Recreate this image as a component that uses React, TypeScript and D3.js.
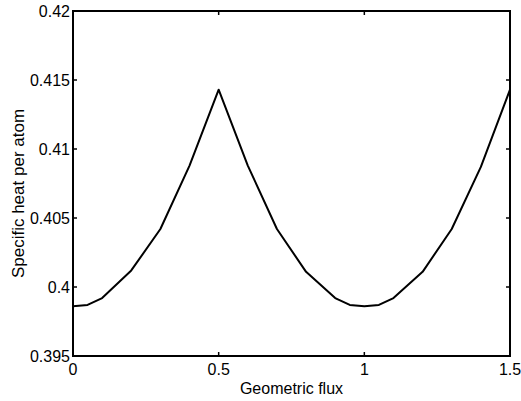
import React, { useEffect, useRef } from 'react';
import * as d3 from 'd3';

// flux values and specific heat
const flux = [0, 0.05, 0.1, 0.2, 0.3, 0.4, 0.5, 0.6, 0.7, 0.8, 0.9, 0.95, 1.0, 1.05, 1.1, 1.2, 1.3, 1.4, 1.5];
const heat = [0.3986, 0.3987, 0.3992, 0.4012, 0.4042, 0.4088, 0.4143, 0.4088, 0.4042, 0.4011, 0.3992, 0.3987, 0.3986, 0.3987, 0.3992, 0.4011, 0.4042, 0.4087, 0.4143];

const xTicks = [0, 0.5, 1, 1.5];
const yTicks = [0.395, 0.4, 0.405, 0.41, 0.415, 0.42];
const xTickLabels = ['0', '0.5', '1', '1.5'];
const yTickLabels = ['0.395', '0.4', '0.405', '0.41', '0.415', '0.42'];

const App = () => {
  const svgRef = useRef<SVGSVGElement>(null);

  useEffect(() => {
    const svg = d3.select(svgRef.current);
    svg.selectAll('*').remove();

    const width = 521;
    const height = 401;
    const margin = { top: 11, right: 11, bottom: 45, left: 73 };
    const font = 'Liberation Sans, Arial, Helvetica, sans-serif';

    const x = d3.scaleLinear().domain([0, 1.5]).range([margin.left, width - margin.right]);
    const y = d3.scaleLinear().domain([0.395, 0.42]).range([height - margin.bottom, margin.top]);

    svg.append('rect')
      .attr('width', width)
      .attr('height', height)
      .attr('fill', '#fff');

    // ticks pointing inward on all four sides
    const tickLen = 4;
    const ticks = svg.append('g').attr('stroke', '#000').attr('stroke-width', 1.5);
    xTicks.forEach(t => {
      ticks.append('line').attr('x1', x(t)).attr('x2', x(t))
        .attr('y1', y.range()[0]).attr('y2', y.range()[0] - tickLen);
      ticks.append('line').attr('x1', x(t)).attr('x2', x(t))
        .attr('y1', y.range()[1]).attr('y2', y.range()[1] + tickLen);
    });
    yTicks.forEach(t => {
      ticks.append('line').attr('y1', y(t)).attr('y2', y(t))
        .attr('x1', x.range()[0]).attr('x2', x.range()[0] + tickLen);
      ticks.append('line').attr('y1', y(t)).attr('y2', y(t))
        .attr('x1', x.range()[1]).attr('x2', x.range()[1] - tickLen);
    });

    // tick labels
    svg.append('g')
      .selectAll('text')
      .data(xTicks)
      .join('text')
      .attr('x', d => x(d))
      .attr('y', y.range()[0] + 19)
      .attr('text-anchor', 'middle')
      .attr('font-family', font)
      .attr('font-size', 16)
      .text((d, i) => xTickLabels[i]);

    svg.append('g')
      .selectAll('text')
      .data(yTicks)
      .join('text')
      .attr('x', x.range()[0] - 3)
      .attr('y', d => y(d) + 6)
      .attr('text-anchor', 'end')
      .attr('font-family', font)
      .attr('font-size', 16)
      .text((d, i) => yTickLabels[i]);

    // the curve
    const line = d3.line<number>()
      .x((d, i) => x(flux[i]))
      .y(d => y(d));

    svg.append('path')
      .datum(heat)
      .attr('d', line)
      .attr('fill', 'none')
      .attr('stroke', '#000')
      .attr('stroke-width', 2)
      .attr('stroke-linejoin', 'round');

    // box
    svg.append('rect')
      .attr('x', x.range()[0])
      .attr('y', y.range()[1])
      .attr('width', x.range()[1] - x.range()[0])
      .attr('height', y.range()[0] - y.range()[1])
      .attr('fill', 'none')
      .attr('stroke', '#000')
      .attr('stroke-width', 2);

    // axis labels
    svg.append('text')
      .attr('x', (x.range()[0] + x.range()[1]) / 2)
      .attr('y', 394)
      .attr('text-anchor', 'middle')
      .attr('font-family', font)
      .attr('font-size', 16)
      .text('Geometric flux');

    svg.append('text')
      .attr('transform', `translate(24,${(y.range()[0] + y.range()[1]) / 2 + 10}) rotate(-90)`)
      .attr('text-anchor', 'middle')
      .attr('font-family', font)
      .attr('font-size', 17)
      .text('Specific heat per atom');
  }, []);

  return (
    <svg
      ref={svgRef}
      width={521}
      height={401}
      style={{ position: 'absolute', left: 0, top: 0 }}
    ></svg>
  );
};

export default App;
